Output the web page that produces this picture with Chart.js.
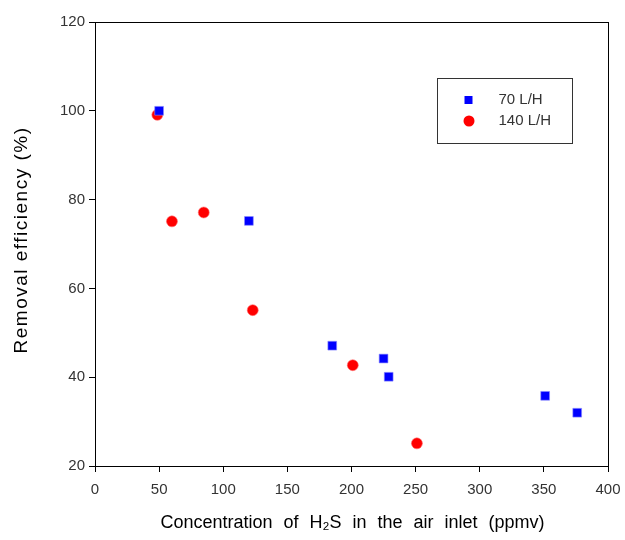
<!DOCTYPE html>
<html>
<head>
<meta charset="utf-8">
<script src="https://cdn.jsdelivr.net/npm/chart.js@4"></script>
<style>
  html, body { margin: 0; padding: 0; background: #fff; }
  #wrap { width: 625px; height: 540px; position: relative; }
</style>
</head>
<body>
<div id="wrap"><canvas id="chart" width="625" height="540"></canvas></div>
<script>
// values
const labels70 = '70 L/H';
const x70 = [50, 120, 185, 225, 229, 351, 376];
const y70 = [100, 75.2, 47.1, 44.2, 40.1, 35.8, 32];

const labels140 = '140 L/H';
const x140 = [48.6, 60, 84.8, 123, 201, 251];
const y140 = [99.1, 75.1, 77.1, 55.1, 42.7, 25.1];

const xTicks = [0, 50, 100, 150, 200, 250, 300, 350, 400];
const yTicks = [20, 40, 60, 80, 100, 120];

const xTitle = 'Concentration of H\u2082S in the air inlet (ppmv)';
const yTitle = 'Removal efficiency (%)';

const tickFont = { family: "'Liberation Sans Narrow', 'Liberation Sans', Arial, sans-serif", size: 15 };
const titleFont = "18px 'Liberation Sans', Arial, sans-serif";

const toPoints = (xs, ys) => xs.map((x, i) => ({ x: x, y: ys[i] }));

// writes a title word by word so the gaps between words can be wider
function spacedText(ctx, text, cx, cy, gap) {
  const words = text.split(' ');
  const widths = words.map(w => ctx.measureText(w).width);
  const total = widths.reduce((s, w) => s + w, 0) + gap * (words.length - 1);
  let x = cx - total / 2;
  words.forEach((w, i) => {
    ctx.fillText(w, x, cy);
    x += widths[i] + gap;
  });
}

// box around the plot area, axis titles, and the legend inside the plot
const framePlugin = {
  id: 'frame',
  afterDraw(chart) {
    const ctx = chart.ctx;
    const a = chart.chartArea;
    ctx.save();
    ctx.strokeStyle = '#000';
    ctx.lineWidth = 1;
    ctx.strokeRect(Math.round(a.left) + 0.5, Math.round(a.top) + 0.5,
      Math.round(a.right - a.left), Math.round(a.bottom - a.top));

    // axis titles
    ctx.fillStyle = '#000';
    ctx.font = titleFont;
    ctx.textAlign = 'left';
    ctx.textBaseline = 'middle';
    spacedText(ctx, xTitle, (a.left + a.right) / 2 + 1, 523, 11);
    ctx.save();
    ctx.translate(22, (a.top + a.bottom) / 2 - 4);
    ctx.rotate(-Math.PI / 2);
    ctx.font = "19px 'Liberation Sans', Arial, sans-serif";
    ctx.letterSpacing = '1.5px';
    ctx.textAlign = 'center';
    ctx.fillText(yTitle, 0, 0);
    ctx.restore();

    // legend box
    const bx = 437.5, by = 78.5, bw = 135, bh = 65;
    ctx.strokeStyle = '#333';
    ctx.strokeRect(bx, by, bw, bh);
    ctx.font = "15px 'Liberation Sans Narrow', 'Liberation Sans', Arial, sans-serif";
    chart.data.datasets.forEach((ds, i) => {
      const cy = by + 21.5 + i * 21;
      ctx.fillStyle = ds.backgroundColor;
      ctx.beginPath();
      if (ds.pointStyle === 'rect') {
        ctx.rect(bx + 27, cy - 4, 8, 8);
      } else {
        ctx.arc(bx + 31.5, cy, 5.5, 0, Math.PI * 2);
      }
      ctx.fill();
      ctx.fillStyle = '#333';
      ctx.fillText(ds.label, bx + 61, cy);
    });
    ctx.restore();
  }
};

new Chart(document.getElementById('chart'), {
  type: 'scatter',
  data: {
    datasets: [
      {
        label: labels70,
        data: toPoints(x70, y70),
        pointStyle: 'rect',
        pointRadius: 6.2,
        backgroundColor: '#0000ff',
        borderColor: '#8a8aff',
        borderWidth: 0.6
      },
      {
        label: labels140,
        data: toPoints(x140, y140),
        pointStyle: 'circle',
        pointRadius: 5.5,
        backgroundColor: '#ff0000',
        borderColor: '#ff7070',
        borderWidth: 0.6
      }
    ]
  },
  options: {
    responsive: false,
    animation: false,
    layout: { padding: { left: 0, right: 17, top: 22, bottom: 0 } },
    plugins: {
      legend: { display: false },
      tooltip: { enabled: false }
    },
    scales: {
      x: {
        type: 'linear',
        min: 0,
        max: 400,
        afterBuildTicks(scale) { scale.ticks = xTicks.map(v => ({ value: v })); },
        afterFit(scale) {
          scale.height = 74;
          scale.paddingLeft = 0;
          scale.paddingRight = 0;
        },
        grid: { drawOnChartArea: false, tickLength: 6, color: '#000' },
        border: { color: '#000' },
        ticks: { font: tickFont, color: '#333', padding: 9, maxRotation: 0 }
      },
      y: {
        type: 'linear',
        min: 20,
        max: 120,
        afterBuildTicks(scale) { scale.ticks = yTicks.map(v => ({ value: v })); },
        afterFit(scale) {
          scale.width = 95;
          scale.paddingTop = 0;
          scale.paddingBottom = 0;
        },
        grid: { drawOnChartArea: false, tickLength: 6, color: '#000' },
        border: { color: '#000' },
        ticks: { font: tickFont, color: '#333', padding: 4 }
      }
    }
  },
  plugins: [framePlugin]
});
</script>
</body>
</html>
